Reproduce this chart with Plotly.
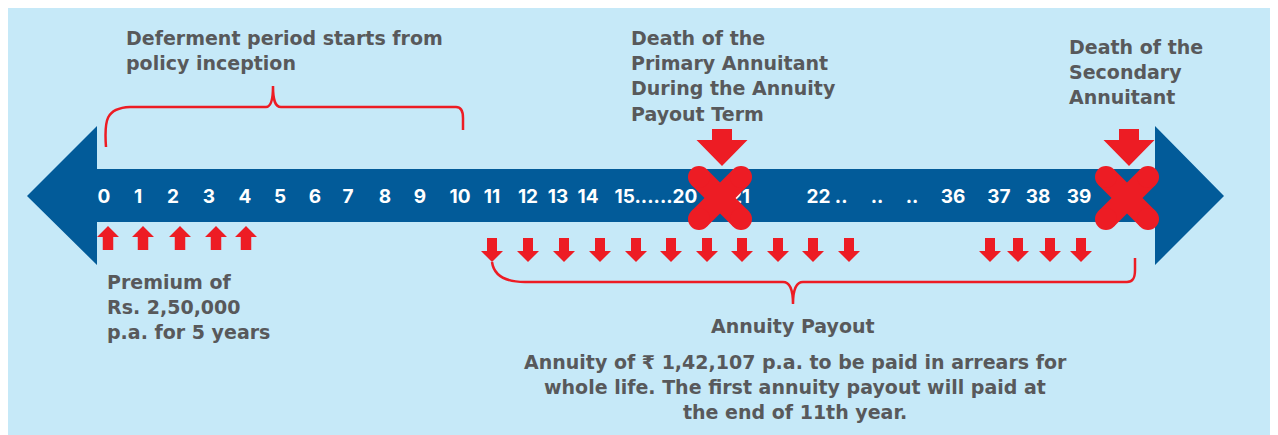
import plotly.graph_objects as go

# ---- data ----
year_labels = ["0", "1", "2", "3", "4", "5", "6", "7", "8", "9", "10", "11", "12", "13", "14",
               "15......20", "21", "22 ..", "..", "..", "36", "37", "38", "39"]
year_label_x = [104, 138, 173, 209, 245, 280, 315, 348, 385, 420, 460, 492, 528, 558, 588,
                656, 740, 827, 877, 912, 953, 999, 1038, 1079]
premium_arrow_x = [108, 143, 180, 216, 246]
payout_arrow_x = [492, 528, 564, 600, 636, 671, 707, 742, 778, 813, 849, 990, 1018, 1050, 1081]
death_x = [720, 1127]

deferment_text = ["Deferment period starts from", "policy inception"]
primary_text = ["Death of the", "Primary Annuitant", "During the Annuity", "Payout Term"]
secondary_text = ["Death of the", "Secondary", "Annuitant"]
premium_text = ["Premium of", "Rs. 2,50,000", "p.a. for 5 years"]
payout_title = "Annuity Payout"
payout_text = ["Annuity of \u20b9 1,42,107 p.a. to be paid in arrears for",
               "whole life. The first annuity payout will paid at",
               "the end of 11th year."]

# ---- styles ----
BG = "#c6e9f8"
BAR = "#025b99"
RED = "#ed1c24"
GRAY = "#58595b"
TEXT_FONT = "DejaVu Sans"
NUM_FONT = "Inter"

# page body has an 8px margin: plot area covers page pixels 8..1278 x 8..435
X0, X1, Y0, Y1 = 8, 1278, 8, 435
fig = go.Figure()
shapes = []

# timeline double arrow
bar_path = ("M 27,196 L 97,126 L 97,169 L 1155,169 L 1155,126 L 1224,196 "
            "L 1155,265 L 1155,222 L 97,222 L 97,265 Z")
shapes.append(dict(type="path", path=bar_path, fillcolor=BAR, line_width=0, layer="below"))


def block_arrow(cx, y_start, y_tip, stem_w, head_w, head_h):
    d = 1 if y_tip > y_start else -1
    yb = y_tip - d * head_h
    p = (f"M {cx - stem_w/2},{y_start} L {cx + stem_w/2},{y_start} L {cx + stem_w/2},{yb} "
         f"L {cx + head_w/2},{yb} L {cx},{y_tip} L {cx - head_w/2},{yb} L {cx - stem_w/2},{yb} Z")
    return dict(type="path", path=p, fillcolor=RED, line_width=0, layer="below")


for x in premium_arrow_x:
    shapes.append(block_arrow(x, 250, 226, 10.5, 22, 11))
for x in payout_arrow_x:
    shapes.append(block_arrow(x, 238, 262, 10, 22, 11))
for x in death_x:
    shapes.append(block_arrow(x + 2, 129, 166, 20, 51, 26))

# braces
top_brace = ("M 106,147 C 104,120 106,108 130,107 L 266,107 C 271,107 273,100 273,86 "
             "C 273,100 275,107 281,107 L 456,107 C 462,107 463,112 463,118 L 463,130")
bottom_brace = ("M 492,262 C 494,276 505,282 525,282 L 783,282 C 790,282 793,290 793,304 "
                "C 793,290 796,282 803,282 L 1127,282 C 1133,282 1135,278 1135,270 L 1135,258")
for p in (top_brace, bottom_brace):
    shapes.append(dict(type="path", path=p, line=dict(color=RED, width=2.5), layer="below"))

# year labels on the bar
fig.add_trace(go.Scatter(
    x=year_label_x, y=[198] * len(year_labels), mode="text",
    text=[f"<b>{t}</b>" for t in year_labels], textposition="middle center",
    textfont=dict(family=NUM_FONT, size=19, color="white"), hoverinfo="skip", showlegend=False))

# red X marks (thick lines with round end markers)
for cx in death_x:
    cy = 198
    a = 21
    for (x0, y0, x1, y1) in [(cx - a, cy - a, cx + a, cy + a), (cx + a, cy - a, cx - a, cy + a)]:
        fig.add_trace(go.Scatter(
            x=[x0, x1], y=[y0, y1], mode="lines+markers",
            line=dict(color=RED, width=22), marker=dict(color=RED, size=22, line_width=0),
            hoverinfo="skip", showlegend=False))

annotations = []


def add_lines(lines, x, y0, anchor="left", step=25.2, size=19):
    for i, t in enumerate(lines):
        annotations.append(dict(
            x=x, y=y0 + i * step, xref="x", yref="y", text=f"<b>{t}</b>", showarrow=False,
            xanchor=anchor, yanchor="middle",
            font=dict(family=TEXT_FONT, size=size, color=GRAY)))


add_lines(deferment_text, 124, 38)
add_lines(primary_text, 629, 38)
add_lines(secondary_text, 1067, 47)
add_lines(premium_text, 105, 282)
add_lines([payout_title], 793, 326, anchor="center")
add_lines(payout_text, 795, 362, anchor="center")

fig.update_layout(
    width=X1 - X0, height=Y1 - Y0, margin=dict(l=0, r=0, t=0, b=0),
    paper_bgcolor=BG, plot_bgcolor=BG,
    xaxis=dict(range=[X0, X1], visible=False, fixedrange=True),
    yaxis=dict(range=[Y1, Y0], visible=False, fixedrange=True),
    shapes=shapes, annotations=annotations, showlegend=False)

fig.write_html("out.html")
